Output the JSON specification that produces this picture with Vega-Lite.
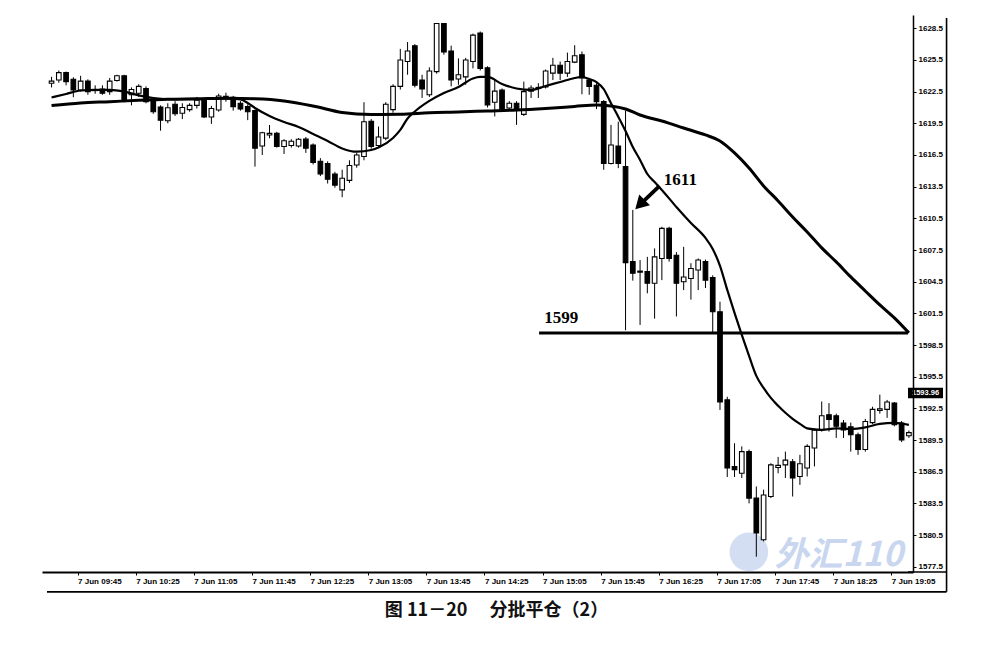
{
"$schema": "https://vega.github.io/schema/vega-lite/v6.json",
"width": 871, "height": 557,
"autosize": {"type": "none"},
"padding": {"left": 42, "top": 15, "right": 69, "bottom": 91},
"background": "white",
"config": {"view": {"stroke": null}, "font": "Liberation Sans", "axis": {"labelOverlap": false, "labelFlush": false}},
"title": {"text": "图 11－20　 分批平仓（2）", "orient": "bottom", "anchor": "middle", "font": "Noto Sans CJK SC", "fontSize": 18, "fontWeight": "bold", "color": "#111", "offset": 9, "dx": 19},
"datasets": {
"candles": [
{"t":"2012-06-07T09:25","o":1623.3,"h":1623.9,"l":1622.9,"c":1623.5},
{"t":"2012-06-07T09:30","o":1623.6,"h":1624.5,"l":1623.35,"c":1624.3},
{"t":"2012-06-07T09:35","o":1624.3,"h":1624.4,"l":1623.1,"c":1623.45},
{"t":"2012-06-07T09:40","o":1623.67,"h":1623.86,"l":1621.97,"c":1622.66},
{"t":"2012-06-07T09:45","o":1622.66,"h":1624.0,"l":1622.5,"c":1623.5},
{"t":"2012-06-07T09:50","o":1623.5,"h":1623.67,"l":1622.2,"c":1622.5},
{"t":"2012-06-07T09:55","o":1622.7,"h":1623.1,"l":1622.3,"c":1622.6},
{"t":"2012-06-07T10:00","o":1622.75,"h":1623.1,"l":1622.2,"c":1622.35},
{"t":"2012-06-07T10:05","o":1622.5,"h":1623.8,"l":1622.2,"c":1623.5},
{"t":"2012-06-07T10:10","o":1623.55,"h":1624.1,"l":1623.45,"c":1624.0},
{"t":"2012-06-07T10:15","o":1624.0,"h":1624.1,"l":1621.5,"c":1621.6},
{"t":"2012-06-07T10:20","o":1622.2,"h":1622.9,"l":1621.2,"c":1622.7},
{"t":"2012-06-07T10:25","o":1622.35,"h":1623.2,"l":1622.0,"c":1623.0},
{"t":"2012-06-07T10:30","o":1622.8,"h":1623.0,"l":1621.4,"c":1621.55},
{"t":"2012-06-07T10:35","o":1621.8,"h":1622.0,"l":1620.4,"c":1620.6},
{"t":"2012-06-07T10:40","o":1621.05,"h":1621.2,"l":1618.8,"c":1619.8},
{"t":"2012-06-07T10:45","o":1619.75,"h":1621.4,"l":1619.5,"c":1620.98},
{"t":"2012-06-07T10:50","o":1621.3,"h":1621.6,"l":1620.2,"c":1620.4},
{"t":"2012-06-07T10:55","o":1620.45,"h":1621.4,"l":1619.9,"c":1621.0},
{"t":"2012-06-07T11:00","o":1620.8,"h":1621.4,"l":1620.6,"c":1621.2},
{"t":"2012-06-07T11:05","o":1621.2,"h":1622.0,"l":1620.9,"c":1621.7},
{"t":"2012-06-07T11:10","o":1621.7,"h":1621.9,"l":1620.0,"c":1620.1},
{"t":"2012-06-07T11:15","o":1620.1,"h":1621.15,"l":1619.45,"c":1620.9},
{"t":"2012-06-07T11:20","o":1620.76,"h":1622.3,"l":1620.6,"c":1622.09},
{"t":"2012-06-07T11:25","o":1621.9,"h":1622.4,"l":1621.55,"c":1622.05},
{"t":"2012-06-07T11:30","o":1621.97,"h":1622.1,"l":1620.7,"c":1621.08},
{"t":"2012-06-07T11:35","o":1621.4,"h":1621.6,"l":1620.7,"c":1620.85},
{"t":"2012-06-07T11:40","o":1621.1,"h":1621.3,"l":1619.8,"c":1620.6},
{"t":"2012-06-07T11:45","o":1620.7,"h":1620.8,"l":1615.4,"c":1617.15},
{"t":"2012-06-07T11:50","o":1617.35,"h":1618.7,"l":1616.5,"c":1618.6},
{"t":"2012-06-07T11:55","o":1618.4,"h":1619.34,"l":1618.08,"c":1618.55},
{"t":"2012-06-07T12:00","o":1618.55,"h":1618.7,"l":1617.2,"c":1617.3},
{"t":"2012-06-07T12:05","o":1617.3,"h":1618.0,"l":1616.6,"c":1617.85},
{"t":"2012-06-07T12:10","o":1617.4,"h":1618.0,"l":1617.2,"c":1617.8},
{"t":"2012-06-07T12:15","o":1617.35,"h":1618.1,"l":1617.2,"c":1617.99},
{"t":"2012-06-07T12:20","o":1618.0,"h":1618.2,"l":1616.7,"c":1617.15},
{"t":"2012-06-07T12:25","o":1617.45,"h":1617.6,"l":1615.6,"c":1615.8},
{"t":"2012-06-07T12:30","o":1615.9,"h":1616.2,"l":1614.5,"c":1614.7},
{"t":"2012-06-07T12:35","o":1615.7,"h":1615.9,"l":1613.8,"c":1614.2},
{"t":"2012-06-07T12:40","o":1614.7,"h":1614.9,"l":1613.4,"c":1613.65},
{"t":"2012-06-07T12:45","o":1613.2,"h":1615.1,"l":1612.5,"c":1614.3},
{"t":"2012-06-07T12:50","o":1614.1,"h":1616.0,"l":1613.85,"c":1615.5},
{"t":"2012-06-07T12:55","o":1615.55,"h":1616.7,"l":1615.3,"c":1616.5},
{"t":"2012-06-07T13:00","o":1616.35,"h":1621.5,"l":1616.0,"c":1619.65},
{"t":"2012-06-07T13:05","o":1619.7,"h":1619.9,"l":1617.1,"c":1617.3},
{"t":"2012-06-07T13:10","o":1617.4,"h":1619.2,"l":1617.2,"c":1618.2},
{"t":"2012-06-07T13:15","o":1618.1,"h":1621.5,"l":1617.9,"c":1621.3},
{"t":"2012-06-07T13:20","o":1620.8,"h":1623.2,"l":1620.5,"c":1623.0},
{"t":"2012-06-07T13:25","o":1623.0,"h":1626.55,"l":1622.7,"c":1625.5},
{"t":"2012-06-07T13:30","o":1625.35,"h":1627.2,"l":1624.1,"c":1626.35},
{"t":"2012-06-07T13:35","o":1626.85,"h":1627.0,"l":1622.9,"c":1623.1},
{"t":"2012-06-07T13:40","o":1623.6,"h":1624.1,"l":1621.9,"c":1622.75},
{"t":"2012-06-07T13:45","o":1622.2,"h":1624.8,"l":1622.0,"c":1624.45},
{"t":"2012-06-07T13:50","o":1624.4,"h":1629.0,"l":1624.2,"c":1628.95},
{"t":"2012-06-07T13:55","o":1628.95,"h":1629.0,"l":1626.0,"c":1626.25},
{"t":"2012-06-07T14:00","o":1626.35,"h":1626.85,"l":1623.0,"c":1623.6},
{"t":"2012-06-07T14:05","o":1623.7,"h":1625.65,"l":1623.15,"c":1624.1},
{"t":"2012-06-07T14:10","o":1623.9,"h":1625.7,"l":1623.15,"c":1625.5},
{"t":"2012-06-07T14:15","o":1625.35,"h":1628.0,"l":1624.7,"c":1627.85},
{"t":"2012-06-07T14:20","o":1628.05,"h":1628.2,"l":1624.5,"c":1624.7},
{"t":"2012-06-07T14:25","o":1624.75,"h":1624.9,"l":1621.0,"c":1621.25},
{"t":"2012-06-07T14:30","o":1621.5,"h":1623.6,"l":1620.15,"c":1622.55},
{"t":"2012-06-07T14:35","o":1622.65,"h":1622.8,"l":1620.7,"c":1620.85},
{"t":"2012-06-07T14:40","o":1620.95,"h":1621.6,"l":1620.8,"c":1621.4},
{"t":"2012-06-07T14:45","o":1621.4,"h":1621.6,"l":1619.35,"c":1620.75},
{"t":"2012-06-07T14:50","o":1620.35,"h":1623.45,"l":1620.2,"c":1622.5},
{"t":"2012-06-07T14:55","o":1622.55,"h":1623.1,"l":1621.9,"c":1622.85},
{"t":"2012-06-07T15:00","o":1622.8,"h":1623.3,"l":1621.9,"c":1622.9},
{"t":"2012-06-07T15:05","o":1622.95,"h":1624.6,"l":1622.8,"c":1624.45},
{"t":"2012-06-07T15:10","o":1624.25,"h":1625.7,"l":1623.6,"c":1625.0},
{"t":"2012-06-07T15:15","o":1625.0,"h":1625.35,"l":1623.6,"c":1624.25},
{"t":"2012-06-07T15:20","o":1624.25,"h":1626.2,"l":1623.9,"c":1625.35},
{"t":"2012-06-07T15:25","o":1625.3,"h":1626.9,"l":1625.2,"c":1625.9},
{"t":"2012-06-07T15:30","o":1626.0,"h":1626.3,"l":1622.25,"c":1623.8},
{"t":"2012-06-07T15:35","o":1623.6,"h":1623.8,"l":1622.2,"c":1623.0},
{"t":"2012-06-07T15:40","o":1623.1,"h":1623.3,"l":1620.85,"c":1621.55},
{"t":"2012-06-07T15:45","o":1621.55,"h":1621.7,"l":1615.1,"c":1615.7},
{"t":"2012-06-07T15:50","o":1615.7,"h":1619.35,"l":1615.6,"c":1617.45},
{"t":"2012-06-07T15:55","o":1617.35,"h":1619.65,"l":1615.25,"c":1615.7},
{"t":"2012-06-07T16:00","o":1615.4,"h":1620.7,"l":1599.9,"c":1606.3},
{"t":"2012-06-07T16:05","o":1606.4,"h":1611.3,"l":1604.6,"c":1605.3},
{"t":"2012-06-07T16:10","o":1605.5,"h":1606.55,"l":1600.4,"c":1605.4},
{"t":"2012-06-07T16:15","o":1605.45,"h":1606.85,"l":1603.4,"c":1604.35},
{"t":"2012-06-07T16:20","o":1604.35,"h":1607.65,"l":1601.0,"c":1606.85},
{"t":"2012-06-07T16:25","o":1606.7,"h":1609.7,"l":1604.65,"c":1609.55},
{"t":"2012-06-07T16:30","o":1609.55,"h":1609.7,"l":1606.4,"c":1606.7},
{"t":"2012-06-07T16:35","o":1607.0,"h":1607.3,"l":1601.2,"c":1604.35},
{"t":"2012-06-07T16:40","o":1604.5,"h":1607.8,"l":1603.7,"c":1604.95},
{"t":"2012-06-07T16:45","o":1604.8,"h":1606.25,"l":1602.8,"c":1605.75},
{"t":"2012-06-07T16:50","o":1605.6,"h":1606.7,"l":1603.7,"c":1606.55},
{"t":"2012-06-07T16:55","o":1606.4,"h":1606.6,"l":1603.9,"c":1604.65},
{"t":"2012-06-07T17:00","o":1604.9,"h":1605.1,"l":1599.6,"c":1601.65},
{"t":"2012-06-07T17:05","o":1601.65,"h":1602.6,"l":1592.35,"c":1593.1},
{"t":"2012-06-07T17:10","o":1593.3,"h":1593.6,"l":1586.0,"c":1586.85},
{"t":"2012-06-07T17:15","o":1587.0,"h":1589.2,"l":1586.0,"c":1586.7},
{"t":"2012-06-07T17:20","o":1586.35,"h":1588.9,"l":1585.9,"c":1588.4},
{"t":"2012-06-07T17:25","o":1588.4,"h":1588.6,"l":1583.5,"c":1584.0},
{"t":"2012-06-07T17:30","o":1584.0,"h":1585.1,"l":1578.45,"c":1580.7},
{"t":"2012-06-07T17:35","o":1580.05,"h":1584.8,"l":1579.9,"c":1584.3},
{"t":"2012-06-07T17:40","o":1584.15,"h":1587.3,"l":1584.0,"c":1587.15},
{"t":"2012-06-07T17:45","o":1586.9,"h":1587.9,"l":1586.35,"c":1587.1},
{"t":"2012-06-07T17:50","o":1587.15,"h":1588.4,"l":1585.9,"c":1587.6},
{"t":"2012-06-07T17:55","o":1587.45,"h":1587.7,"l":1584.15,"c":1585.9},
{"t":"2012-06-07T18:00","o":1586.05,"h":1588.1,"l":1585.25,"c":1587.25},
{"t":"2012-06-07T18:05","o":1586.85,"h":1589.1,"l":1586.05,"c":1588.9},
{"t":"2012-06-07T18:10","o":1588.75,"h":1590.6,"l":1587.0,"c":1590.45},
{"t":"2012-06-07T18:15","o":1590.45,"h":1593.15,"l":1590.3,"c":1591.8},
{"t":"2012-06-07T18:20","o":1591.9,"h":1593.0,"l":1590.3,"c":1591.45},
{"t":"2012-06-07T18:25","o":1591.8,"h":1592.0,"l":1589.7,"c":1590.8},
{"t":"2012-06-07T18:30","o":1591.1,"h":1591.4,"l":1589.7,"c":1590.45},
{"t":"2012-06-07T18:35","o":1590.75,"h":1591.15,"l":1588.4,"c":1590.0},
{"t":"2012-06-07T18:40","o":1590.0,"h":1590.2,"l":1588.1,"c":1588.6},
{"t":"2012-06-07T18:45","o":1588.6,"h":1591.5,"l":1588.4,"c":1591.25},
{"t":"2012-06-07T18:50","o":1591.15,"h":1592.65,"l":1591.0,"c":1592.4},
{"t":"2012-06-07T18:55","o":1592.3,"h":1593.8,"l":1592.0,"c":1592.45},
{"t":"2012-06-07T19:00","o":1592.4,"h":1593.3,"l":1591.6,"c":1593.1},
{"t":"2012-06-07T19:05","o":1593.0,"h":1593.1,"l":1590.8,"c":1590.95},
{"t":"2012-06-07T19:10","o":1591.1,"h":1591.3,"l":1589.3,"c":1589.5},
{"t":"2012-06-07T19:15","o":1589.9,"h":1590.4,"l":1589.7,"c":1590.2}
],
"fast": [
{"t":"2012-06-07T09:25","v":1621.95},{"t":"2012-06-07T09:35","v":1622.28},{"t":"2012-06-07T09:45","v":1622.61},
{"t":"2012-06-07T09:55","v":1622.66},{"t":"2012-06-07T10:05","v":1622.66},{"t":"2012-06-07T10:15","v":1622.5},
{"t":"2012-06-07T10:25","v":1622.14},{"t":"2012-06-07T10:35","v":1621.9},{"t":"2012-06-07T10:50","v":1621.78},
{"t":"2012-06-07T11:05","v":1621.78},{"t":"2012-06-07T11:25","v":1621.87},{"t":"2012-06-07T11:35","v":1621.76},
{"t":"2012-06-07T11:40","v":1621.43},{"t":"2012-06-07T11:45","v":1620.95},{"t":"2012-06-07T11:55","v":1620.2},
{"t":"2012-06-07T12:05","v":1619.63},{"t":"2012-06-07T12:15","v":1619.15},{"t":"2012-06-07T12:25","v":1618.49},
{"t":"2012-06-07T12:35","v":1617.83},{"t":"2012-06-07T12:45","v":1617.12},{"t":"2012-06-07T12:55","v":1616.81},
{"t":"2012-06-07T13:05","v":1616.97},{"t":"2012-06-07T13:10","v":1617.21},{"t":"2012-06-07T13:20","v":1618.11},
{"t":"2012-06-07T13:25","v":1618.87},{"t":"2012-06-07T13:30","v":1619.96},{"t":"2012-06-07T13:35","v":1620.62},
{"t":"2012-06-07T13:45","v":1621.62},{"t":"2012-06-07T13:55","v":1622.37},{"t":"2012-06-07T14:05","v":1622.94},
{"t":"2012-06-07T14:15","v":1623.75},{"t":"2012-06-07T14:20","v":1623.89},{"t":"2012-06-07T14:25","v":1623.89},
{"t":"2012-06-07T14:35","v":1623.23},{"t":"2012-06-07T14:45","v":1622.8},{"t":"2012-06-07T14:55","v":1622.66},
{"t":"2012-06-07T15:05","v":1623.04},{"t":"2012-06-07T15:15","v":1623.41},{"t":"2012-06-07T15:25","v":1623.79},
{"t":"2012-06-07T15:30","v":1623.89},{"t":"2012-06-07T15:35","v":1623.7},{"t":"2012-06-07T15:40","v":1623.41},
{"t":"2012-06-07T15:45","v":1622.75},{"t":"2012-06-07T15:50","v":1621.4},{"t":"2012-06-07T15:55","v":1620.13},
{"t":"2012-06-07T16:00","v":1618.77},{"t":"2012-06-07T16:05","v":1617.26},{"t":"2012-06-07T16:10","v":1616.03},
{"t":"2012-06-07T16:15","v":1614.7},{"t":"2012-06-07T16:20","v":1613.94},{"t":"2012-06-07T16:25","v":1613.19},
{"t":"2012-06-07T16:35","v":1611.58},{"t":"2012-06-07T16:45","v":1610.06},{"t":"2012-06-07T16:55","v":1608.64},
{"t":"2012-06-07T17:00","v":1607.6},{"t":"2012-06-07T17:05","v":1606.0},{"t":"2012-06-07T17:10","v":1603.72},
{"t":"2012-06-07T17:15","v":1601.54},{"t":"2012-06-07T17:20","v":1599.46},{"t":"2012-06-07T17:25","v":1597.47},
{"t":"2012-06-07T17:30","v":1595.58},{"t":"2012-06-07T17:35","v":1594.44},{"t":"2012-06-07T17:40","v":1593.49},
{"t":"2012-06-07T17:45","v":1592.74},{"t":"2012-06-07T17:50","v":1592.08},{"t":"2012-06-07T17:55","v":1591.51},
{"t":"2012-06-07T18:00","v":1591.03},{"t":"2012-06-07T18:05","v":1590.6},{"t":"2012-06-07T18:15","v":1590.46},
{"t":"2012-06-07T18:25","v":1590.6},{"t":"2012-06-07T18:35","v":1590.55},{"t":"2012-06-07T18:45","v":1590.7},
{"t":"2012-06-07T18:55","v":1591.03},{"t":"2012-06-07T19:05","v":1591.12},{"t":"2012-06-07T19:15","v":1590.93}
],
"slow": [
{"t":"2012-06-07T09:25","v":1621.18},{"t":"2012-06-07T09:45","v":1621.43},{"t":"2012-06-07T10:05","v":1621.55},
{"t":"2012-06-07T10:25","v":1621.68},{"t":"2012-06-07T10:45","v":1621.78},{"t":"2012-06-07T11:05","v":1621.82},
{"t":"2012-06-07T11:25","v":1621.87},{"t":"2012-06-07T11:45","v":1621.82},{"t":"2012-06-07T12:05","v":1621.62},
{"t":"2012-06-07T12:25","v":1621.14},{"t":"2012-06-07T12:45","v":1620.53},{"t":"2012-06-07T13:05","v":1620.34},
{"t":"2012-06-07T13:25","v":1620.36},{"t":"2012-06-07T13:45","v":1620.51},{"t":"2012-06-07T14:05","v":1620.58},
{"t":"2012-06-07T14:25","v":1620.67},{"t":"2012-06-07T14:45","v":1620.76},{"t":"2012-06-07T15:05","v":1620.91},
{"t":"2012-06-07T15:25","v":1621.1},{"t":"2012-06-07T15:40","v":1621.24},{"t":"2012-06-07T15:50","v":1621.14},
{"t":"2012-06-07T16:00","v":1620.86},{"t":"2012-06-07T16:10","v":1620.29},{"t":"2012-06-07T16:25","v":1619.72},
{"t":"2012-06-07T16:40","v":1619.06},{"t":"2012-06-07T16:55","v":1618.4},{"t":"2012-06-07T17:05","v":1617.83},
{"t":"2012-06-07T17:15","v":1616.7},{"t":"2012-06-07T17:25","v":1615.27},{"t":"2012-06-07T17:35","v":1613.57},
{"t":"2012-06-07T17:45","v":1612.15},{"t":"2012-06-07T17:55","v":1610.63},{"t":"2012-06-07T18:05","v":1609.21},
{"t":"2012-06-07T18:15","v":1607.7},{"t":"2012-06-07T18:25","v":1606.37},{"t":"2012-06-07T18:35","v":1604.95},
{"t":"2012-06-07T18:45","v":1603.62},{"t":"2012-06-07T18:55","v":1602.3},{"t":"2012-06-07T19:05","v":1601.07},
{"t":"2012-06-07T19:15","v":1599.65}
]
},
"layer": [
{"data": {"values": [{"t":"2012-06-07T17:24:52","v":1578.9}]},
 "mark": {"type":"point","shape":"circle","filled":true,"size":1500,"color":"#c9d6ef","opacity":0.8,"clip":false},
 "encoding": {"x":{"field":"t","type":"temporal","title":null,"scale":{"domain":[{"year":2012,"month":6,"date":7,"hours":9,"minutes":21,"seconds":52},{"year":2012,"month":6,"date":7,"hours":19,"minutes":14,"seconds":23}]}},
  "y":{"field":"v","type":"quantitative","title":null,"scale":{"domain":[1577.0,1629.76],"nice":false,"zero":false}}}},
{"data": {"values": [{"t":"2012-06-07T17:42:33","v":1577.6,"s":"外汇110"}]},
 "mark": {"type":"text","align":"left","baseline":"alphabetic","font":"Noto Sans CJK SC","fontSize":34,"fontWeight":"bold","fontStyle":"italic","color":"#c9d6ef","clip":false},
 "encoding": {"x":{"field":"t","type":"temporal","title":null,"scale":{"domain":[{"year":2012,"month":6,"date":7,"hours":9,"minutes":21,"seconds":52},{"year":2012,"month":6,"date":7,"hours":19,"minutes":14,"seconds":23}]}},
  "y":{"field":"v","type":"quantitative","title":null,"scale":{"domain":[1577.0,1629.76],"nice":false,"zero":false}},
  "text":{"field":"s"}}},
{"data": {"values": [
  {"t":"2012-06-07T09:21:52","t2":"2012-06-07T19:40:55","v":1575.12,"v2":1575.12},
  {"t":"2012-06-07T19:40:55","t2":"2012-06-07T19:40:55","v":1575.12,"v2":1629.48},
  {"t":"2012-06-07T19:14:23","t2":"2012-06-07T19:40:55","v":1577.0,"v2":1577.0}]},
 "mark": {"type":"rule","color":"#000","strokeWidth":1.6,"clip":false},
 "encoding": {"x":{"field":"t","type":"temporal","title":null,"scale":{"domain":[{"year":2012,"month":6,"date":7,"hours":9,"minutes":21,"seconds":52},{"year":2012,"month":6,"date":7,"hours":19,"minutes":14,"seconds":23}]}},
  "x2":{"field":"t2"},
  "y":{"field":"v","type":"quantitative","title":null,"scale":{"domain":[1577.0,1629.76],"nice":false,"zero":false}},
  "y2":{"field":"v2"}}},
{"data": {"name":"candles"},
 "mark": {"type":"rule","color":"#000","strokeWidth":1,"clip":true},
 "encoding": {
  "x":{"field":"t","type":"temporal","title":null,
   "scale":{"domain":[{"year":2012,"month":6,"date":7,"hours":9,"minutes":21,"seconds":52},{"year":2012,"month":6,"date":7,"hours":19,"minutes":14,"seconds":23}]},
   "axis":{"zindex":1,"grid":false,"tickCount":40,"format":"%-d %b %H:%M","labelAlign":"left","labelFlush":false,"labelOverlap":false,"tickOffset":-3,"tickSize":3,"tickColor":"#000","domainColor":"#000","domainWidth":2,"labelFontSize":8,"labelFont":"Liberation Sans","labelFontWeight":"bold","labelColor":"#000","labelPadding":2,
    "values":[{"year":2012,"month":6,"date":7,"hours":9,"minutes":45},{"year":2012,"month":6,"date":7,"hours":10,"minutes":25},{"year":2012,"month":6,"date":7,"hours":11,"minutes":5},{"year":2012,"month":6,"date":7,"hours":11,"minutes":45},{"year":2012,"month":6,"date":7,"hours":12,"minutes":25},{"year":2012,"month":6,"date":7,"hours":13,"minutes":5},{"year":2012,"month":6,"date":7,"hours":13,"minutes":45},{"year":2012,"month":6,"date":7,"hours":14,"minutes":25},{"year":2012,"month":6,"date":7,"hours":15,"minutes":5},{"year":2012,"month":6,"date":7,"hours":15,"minutes":45},{"year":2012,"month":6,"date":7,"hours":16,"minutes":25},{"year":2012,"month":6,"date":7,"hours":17,"minutes":5},{"year":2012,"month":6,"date":7,"hours":17,"minutes":45},{"year":2012,"month":6,"date":7,"hours":18,"minutes":25},{"year":2012,"month":6,"date":7,"hours":19,"minutes":5}]}},
  "y":{"field":"l","type":"quantitative","title":null,
   "scale":{"domain":[1577.0,1629.76],"nice":false,"zero":false},
   "axis":{"zindex":1,"orient":"right","grid":false,"tickCount":40,"format":".1f","values":[1577.5,1580.5,1583.5,1586.5,1589.5,1592.5,1595.5,1598.5,1601.5,1604.5,1607.5,1610.5,1613.5,1616.5,1619.5,1622.5,1625.5,1628.5],"tickSize":3,"tickColor":"#000","domainColor":"#000","domainWidth":1.5,"labelFontSize":8,"labelFont":"Liberation Sans","labelFontWeight":"bold","labelColor":"#000","labelPadding":2,"labelFlush":false,"labelOverlap":false}},
  "y2":{"field":"h"}}},
{"data": {"name":"candles"},
 "mark": {"type":"bar","size":4.6,"stroke":"#000","strokeWidth":1.1,"clip":true},
 "encoding": {
  "x":{"field":"t","type":"temporal","title":null,"scale":{"domain":[{"year":2012,"month":6,"date":7,"hours":9,"minutes":21,"seconds":52},{"year":2012,"month":6,"date":7,"hours":19,"minutes":14,"seconds":23}]}},
  "y":{"field":"o","type":"quantitative","title":null,"scale":{"domain":[1577.0,1629.76],"nice":false,"zero":false}},
  "y2":{"field":"c"},
  "fill":{"condition":{"test":"datum.c < datum.o","value":"#000"},"value":"#fff"}}},
{"data": {"name":"slow"},
 "mark": {"type":"line","color":"#000","strokeWidth":3,"interpolate":"monotone","clip":true},
 "encoding": {
  "x":{"field":"t","type":"temporal","title":null,"scale":{"domain":[{"year":2012,"month":6,"date":7,"hours":9,"minutes":21,"seconds":52},{"year":2012,"month":6,"date":7,"hours":19,"minutes":14,"seconds":23}]}},
  "y":{"field":"v","type":"quantitative","title":null,"scale":{"domain":[1577.0,1629.76],"nice":false,"zero":false}}}},
{"data": {"name":"fast"},
 "mark": {"type":"line","color":"#000","strokeWidth":2.2,"interpolate":"monotone","clip":true},
 "encoding": {
  "x":{"field":"t","type":"temporal","title":null,"scale":{"domain":[{"year":2012,"month":6,"date":7,"hours":9,"minutes":21,"seconds":52},{"year":2012,"month":6,"date":7,"hours":19,"minutes":14,"seconds":23}]}},
  "y":{"field":"v","type":"quantitative","title":null,"scale":{"domain":[1577.0,1629.76],"nice":false,"zero":false}}}},
{"data": {"values": [{"t":"2012-06-07T15:00:30","t2":"2012-06-07T19:14:23","v":1599.65}]},
 "mark": {"type":"rule","color":"#000","strokeWidth":3},
 "encoding": {
  "x":{"field":"t","type":"temporal","title":null,"scale":{"domain":[{"year":2012,"month":6,"date":7,"hours":9,"minutes":21,"seconds":52},{"year":2012,"month":6,"date":7,"hours":19,"minutes":14,"seconds":23}]}},
  "x2":{"field":"t2"},
  "y":{"field":"v","type":"quantitative","title":null,"scale":{"domain":[1577.0,1629.76],"nice":false,"zero":false}}}},
{"data": {"values": [{"t":"2012-06-07T15:04:03","v":1600.55,"s":"1599"},{"t":"2012-06-07T16:26:22","v":1613.66,"s":"1611"}]},
 "mark": {"type":"text","align":"left","baseline":"alphabetic","font":"Liberation Serif","fontSize":17,"fontWeight":"bold","color":"#000"},
 "encoding": {
  "x":{"field":"t","type":"temporal","title":null,"scale":{"domain":[{"year":2012,"month":6,"date":7,"hours":9,"minutes":21,"seconds":52},{"year":2012,"month":6,"date":7,"hours":19,"minutes":14,"seconds":23}]}},
  "y":{"field":"v","type":"quantitative","title":null,"scale":{"domain":[1577.0,1629.76],"nice":false,"zero":false}},
  "text":{"field":"s"}}},
{"data": {"values": [{"t":"2012-06-07T16:23:25","t2":"2012-06-07T16:09:54","v":1613.57,"v2":1611.8}]},
 "mark": {"type":"rule","color":"#000","strokeWidth":3.8},
 "encoding": {
  "x":{"field":"t","type":"temporal","title":null,"scale":{"domain":[{"year":2012,"month":6,"date":7,"hours":9,"minutes":21,"seconds":52},{"year":2012,"month":6,"date":7,"hours":19,"minutes":14,"seconds":23}]}},
  "x2":{"field":"t2"},
  "y":{"field":"v","type":"quantitative","title":null,"scale":{"domain":[1577.0,1629.76],"nice":false,"zero":false}},
  "y2":{"field":"v2"}}},
{"data": {"values": [{"t":"2012-06-07T16:09:54","v":1611.8}]},
 "mark": {"type":"point","shape":"triangle-up","angle":225,"filled":true,"size":230,"color":"#000","opacity":1},
 "encoding": {
  "x":{"field":"t","type":"temporal","title":null,"scale":{"domain":[{"year":2012,"month":6,"date":7,"hours":9,"minutes":21,"seconds":52},{"year":2012,"month":6,"date":7,"hours":19,"minutes":14,"seconds":23}]}},
  "y":{"field":"v","type":"quantitative","title":null,"scale":{"domain":[1577.0,1629.76],"nice":false,"zero":false}}}},
{"data": {"values": [{"t":"2012-06-07T19:14:23","v":1593.96,"s":"1593.96"}]},
 "layer": [
  {"mark": {"type":"point","shape":"M0,-0.3L2,-0.3L2,0.3L0,0.3Z","filled":true,"size":1225,"color":"#000","opacity":1,"clip":false}},
  {"mark": {"type":"text","align":"left","dx":4,"fontSize":7.5,"fontWeight":"bold","color":"#fff","clip":false},"encoding":{"text":{"field":"s"}}}
 ],
 "encoding": {
  "x":{"field":"t","type":"temporal","title":null,"scale":{"domain":[{"year":2012,"month":6,"date":7,"hours":9,"minutes":21,"seconds":52},{"year":2012,"month":6,"date":7,"hours":19,"minutes":14,"seconds":23}]}},
  "y":{"field":"v","type":"quantitative","title":null,"scale":{"domain":[1577.0,1629.76],"nice":false,"zero":false}}}}
]
}
